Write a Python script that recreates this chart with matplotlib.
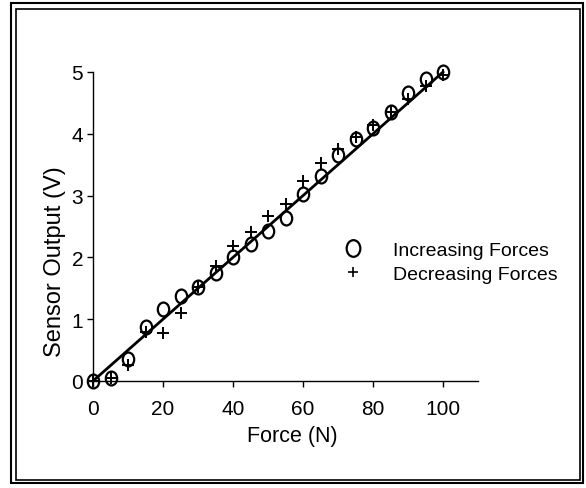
import numpy as np
import matplotlib
matplotlib.use("Agg")
import matplotlib.pyplot as plt
from matplotlib.lines import Line2D
from matplotlib.path import Path
from matplotlib.patches import Rectangle

plt.rcParams['font.family'] = ['Liberation Sans', 'DejaVu Sans']

force = [0, 5, 10, 15, 20, 25, 30, 35, 40, 45, 50, 55, 60, 65, 70, 75, 80, 85, 90, 95, 100]
increasing = [0.0, 0.05, 0.36, 0.88, 1.16, 1.38, 1.52, 1.75, 2.01, 2.21, 2.43, 2.63, 3.03, 3.32, 3.66, 3.91, 4.09, 4.35, 4.66, 4.89, 5.0]
decreasing = [0.0, 0.05, 0.26, 0.79, 0.78, 1.10, 1.52, 1.86, 2.19, 2.41, 2.67, 2.87, 3.23, 3.52, 3.75, 3.95, 4.15, 4.35, 4.56, 4.77, 4.95]
xticks = [0, 20, 40, 60, 80, 100]
yticks = [0, 1, 2, 3, 4, 5]

# ellipse marker (taller than wide)
circ = Path.unit_circle()
ell = Path(circ.vertices * np.array([0.82, 1.0]), circ.codes)

fig = plt.figure(figsize=(5.86, 4.89), dpi=100)
ax = fig.add_axes([93/586, 1-382/489, (478-93)/586, (382-73)/489])

# straight calibration line between end points
ax.plot([force[0], force[-1]], [increasing[0], increasing[-1]], color='black', lw=2.0,
        zorder=2, clip_on=False)

ax.plot(force, increasing, linestyle='none', marker=ell, markersize=10,
        markerfacecolor='none', markeredgecolor='black', markeredgewidth=1.6, zorder=3, clip_on=False)
ax.plot(force, decreasing, linestyle='none', marker='+', markersize=9,
        color='black', markeredgewidth=1.4, zorder=3, clip_on=False)

ax.set_xlim(0, 110)
ax.set_ylim(0, 5)
ax.set_xticks(xticks)
ax.set_yticks(yticks)
ax.tick_params(axis='both', labelsize=15, direction='out', length=4, width=1, color='black')
ax.tick_params(axis='x', pad=9)
ax.tick_params(axis='y', pad=3)
for s in ['top', 'right']:
    ax.spines[s].set_visible(False)
for s in ['left', 'bottom']:
    ax.spines[s].set_linewidth(1.0)
ax.set_xlabel('Force (N)', fontsize=15.5)
ax.set_ylabel('Sensor Output (V)', fontsize=17)
ax.xaxis.set_label_coords(0.517, -0.142)
ax.yaxis.set_label_coords(-0.07, 0.39)
ax.patch.set_visible(False)

h1 = Line2D([], [], linestyle='none', marker=ell, markersize=12, markerfacecolor='none',
            markeredgecolor='black', markeredgewidth=1.6)
h2 = Line2D([], [], linestyle='none', marker='+', markersize=6.5, color='black', markeredgewidth=1.2)
leg = ax.legend([h1, h2], ['Increasing Forces', 'Decreasing Forces'], frameon=False,
                fontsize=14, loc='upper left', bbox_to_anchor=(343/586, 1-242/489),
                bbox_transform=fig.transFigure, handlelength=1.0, handletextpad=1.55,
                labelspacing=0.35, borderaxespad=0, borderpad=0)

# outer frame (double line)
fig.patches.append(Rectangle((11/586, 1-484/489), (583-11)/586, (484-4)/489,
                             transform=fig.transFigure, fill=False, lw=1.5, ec='black'))
fig.patches.append(Rectangle((15.5/586, 1-481/489), (580-15.5)/586, (481-9.5)/489,
                             transform=fig.transFigure, fill=False, lw=1.2, ec='black'))

fig.savefig('out.png', dpi=100)
